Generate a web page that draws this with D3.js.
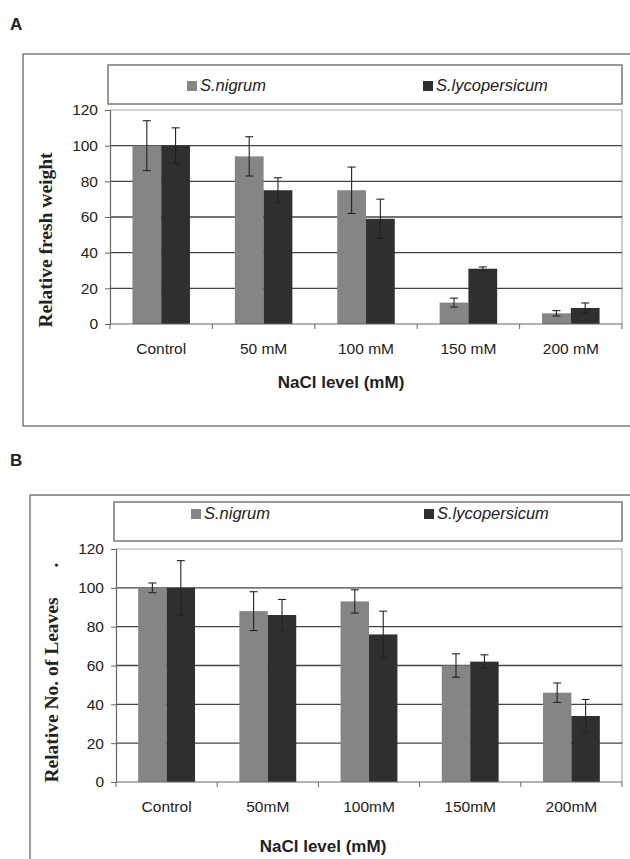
<!DOCTYPE html>
<html>
<head>
<meta charset="utf-8">
<script src="https://cdn.jsdelivr.net/npm/d3@7"></script>
<style>
  body { margin: 0; background: #fff; }
  svg { display: block; }
  text { font-family: "Liberation Sans", Arial, sans-serif; fill: #222; }
</style>
</head>
<body>
<svg id="chart" width="630" height="859"></svg>
<script>
// data
const categoriesA = ['Control', '50 mM', '100 mM', '150 mM', '200 mM'];
const categoriesB = ['Control', '50mM', '100mM', '150mM', '200mM'];
const series = ['S.nigrum', 'S.lycopersicum'];
const yTicks = [0, 20, 40, 60, 80, 100, 120];

const freshNigrum = [100, 94, 75, 12, 6];
const freshNigrumErr = [14, 11, 13, 2.5, 1.5];
const freshLyco = [100, 75, 59, 31, 9];
const freshLycoErr = [10, 7, 11, 1, 2.8];

const leavesNigrum = [100, 88, 93, 60, 46];
const leavesNigrumErr = [2.5, 10, 6, 6, 5];
const leavesLyco = [100, 86, 76, 62, 34];
const leavesLycoErr = [14, 8, 12, 3.5, 8.5];

const colors = ['#858585', '#2f2f2f'];

const svg = d3.select('#chart');

function drawPanel(p) {
    const g = svg.append('g');

    // panel letter
    g.append('text')
        .attr('x', 10).attr('y', p.letterY)
        .style('font-weight', 'bold').style('font-size', '17px')
        .text(p.letter);

    // outer frame (runs off the page right / bottom)
    g.append('rect')
        .attr('x', p.frame[0]).attr('y', p.frame[1])
        .attr('width', p.frame[2]).attr('height', p.frame[3])
        .attr('fill', 'none').attr('stroke', '#666').attr('stroke-width', 1.3);

    // legend box
    g.append('rect')
        .attr('x', p.legend[0]).attr('y', p.legend[1])
        .attr('width', p.legend[2]).attr('height', p.legend[3])
        .attr('fill', '#fff').attr('stroke', '#777').attr('stroke-width', 1.5);

    series.forEach((s, i) => {
        g.append('rect')
            .attr('x', p.legendX[i]).attr('y', p.legendY - 10)
            .attr('width', 10).attr('height', 10)
            .attr('fill', colors[i]);
        g.append('text')
            .attr('x', p.legendX[i] + 13).attr('y', p.legendY)
            .style('font-style', 'italic').style('font-size', '16.5px')
            .text(s);
    });

    const x0 = d3.scaleBand()
        .domain(p.categories)
        .range([p.left, p.right])
        .padding(0);

    const x1 = d3.scaleBand()
        .domain(series)
        .range([0, x0.bandwidth()])
        .paddingInner(0)
        .paddingOuter(0.78);

    const y = d3.scaleLinear()
        .domain([0, 120])
        .range([p.bottom, p.top]);

    // plot border
    g.append('path')
        .attr('d', `M${p.left},${p.top}H${p.right}V${p.bottom}`)
        .attr('fill', 'none').attr('stroke', '#aaa').attr('stroke-width', 1.2);

    // gridlines
    g.append('g')
        .selectAll('line')
        .data(yTicks.filter(t => t > 0 && t < 120))
        .enter().append('line')
        .attr('x1', p.left).attr('x2', p.right)
        .attr('y1', d => y(d)).attr('y2', d => y(d))
        .attr('stroke', '#444').attr('stroke-width', 1.3);

    // bars
    const rows = p.categories.map((c, i) => ({
        cat: c,
        vals: series.map((s, j) => ({s, v: p.values[j][i], e: p.errors[j][i], j}))
    }));

    const groups = g.append('g')
        .selectAll('g')
        .data(rows)
        .enter().append('g')
        .attr('transform', d => 'translate(' + x0(d.cat) + ',0)');

    groups.selectAll('rect')
        .data(d => d.vals)
        .enter().append('rect')
        .attr('x', d => x1(d.s))
        .attr('y', d => y(d.v))
        .attr('width', x1.bandwidth())
        .attr('height', d => y(0) - y(d.v))
        .attr('fill', d => colors[d.j]);

    // error bars
    const eb = groups.selectAll('g.err')
        .data(d => d.vals)
        .enter().append('g')
        .attr('class', 'err')
        .attr('stroke', '#222').attr('stroke-width', 1.1);

    const cx = d => x1(d.s) + x1.bandwidth() / 2;
    eb.append('line')
        .attr('x1', cx).attr('x2', cx)
        .attr('y1', d => y(d.v + d.e)).attr('y2', d => y(d.v - d.e));
    eb.append('line')
        .attr('x1', d => cx(d) - 4).attr('x2', d => cx(d) + 4)
        .attr('y1', d => y(d.v + d.e)).attr('y2', d => y(d.v + d.e));
    eb.append('line')
        .attr('x1', d => cx(d) - 4).attr('x2', d => cx(d) + 4)
        .attr('y1', d => y(d.v - d.e)).attr('y2', d => y(d.v - d.e));

    // y axis
    const yAxis = d3.axisLeft(y)
        .tickValues(yTicks)
        .tickSize(5)
        .tickPadding(7);

    const ya = g.append('g')
        .attr('transform', 'translate(' + p.left + ',0)')
        .call(yAxis);
    ya.select('.domain').attr('stroke', '#666').attr('stroke-width', 1.2);
    ya.selectAll('.tick line').attr('stroke', '#666');
    ya.selectAll('.tick text')
        .style('font-size', '15.5px')
        .style('font-family', '"Liberation Sans", Arial, sans-serif')
        .attr('fill', '#222');

    // x axis: ticks between categories
    const boundaries = p.categories.map(c => x0(c)).concat([p.right]);
    g.append('line')
        .attr('x1', p.left).attr('x2', p.right)
        .attr('y1', p.bottom).attr('y2', p.bottom)
        .attr('stroke', '#666').attr('stroke-width', 1.2);
    g.append('g')
        .selectAll('line')
        .data(boundaries)
        .enter().append('line')
        .attr('x1', d => d).attr('x2', d => d)
        .attr('y1', p.bottom).attr('y2', p.bottom + 5)
        .attr('stroke', '#666');

    g.append('g')
        .selectAll('text')
        .data(p.categories)
        .enter().append('text')
        .attr('x', d => x0(d) + x0.bandwidth() / 2)
        .attr('y', p.bottom + 30)
        .attr('text-anchor', 'middle')
        .style('font-size', '15.5px')
        .text(d => d);

    // axis titles
    g.append('text')
        .attr('x', p.xTitle[0]).attr('y', p.xTitle[1])
        .attr('text-anchor', 'middle')
        .style('font-weight', 'bold').style('font-size', '17px')
        .text('NaCl level (mM)');

    g.append('text')
        .attr('transform', 'translate(' + p.yTitle[0] + ',' + p.yTitle[1] + ') rotate(-90)')
        .attr('text-anchor', 'middle')
        .style('font-family', '"Liberation Serif", "Times New Roman", serif')
        .style('font-weight', 'bold').style('font-size', '19.5px')
        .text(p.yLabel);

    if (p.dot) {
        g.append('text')
            .attr('transform', 'translate(' + p.dot[0] + ',' + p.dot[1] + ') rotate(-90)')
            .attr('text-anchor', 'middle')
            .style('font-family', '"Liberation Serif", "Times New Roman", serif')
            .style('font-weight', 'bold').style('font-size', '19.5px')
            .text('.');
    }
}

drawPanel({
    letter: 'A', letterY: 30,
    frame: [23, 54, 640, 372],
    legend: [108, 65, 514, 39],
    legendX: [187, 423], legendY: 91,
    left: 110, right: 622, top: 110, bottom: 324,
    categories: categoriesA,
    values: [freshNigrum, freshLyco],
    errors: [freshNigrumErr, freshLycoErr],
    xTitle: [341, 388],
    yTitle: [52, 240],
    yLabel: 'Relative fresh weight'
});

drawPanel({
    letter: 'B', letterY: 466,
    frame: [30, 495, 640, 400],
    legend: [114, 502, 508, 39],
    legendX: [191, 424], legendY: 519,
    left: 116, right: 622, top: 549, bottom: 782,
    categories: categoriesB,
    values: [leavesNigrum, leavesLyco],
    errors: [leavesNigrumErr, leavesLycoErr],
    xTitle: [323, 852],
    yTitle: [58, 690],
    yLabel: 'Relative No. of Leaves',
    dot: [58, 565]
});
</script>
</body>
</html>
